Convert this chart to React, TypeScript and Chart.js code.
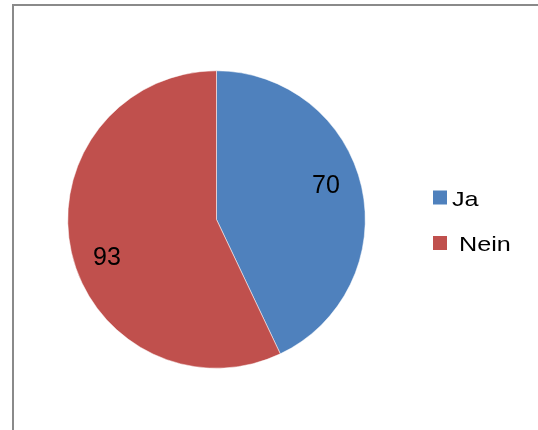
import React, { useEffect, useRef } from "react";
import { Chart, registerables } from "chart.js";

Chart.register(...registerables);

const categories = ["Ja", " Nein"];
const values = [70, 93];
const colors = ["#4F81BD", "#C0504D"];

const framePlugin = {
  id: "frame",
  beforeDraw(chart: any) {
    const ctx = chart.ctx;
    ctx.save();
    ctx.fillStyle = "#ffffff";
    ctx.fillRect(0, 0, chart.width, chart.height);
    ctx.strokeStyle = "#8a8a8a";
    ctx.lineWidth = 2;
    ctx.beginPath();
    ctx.moveTo(13, chart.height + 5);
    ctx.lineTo(13, 5);
    ctx.lineTo(chart.width + 5, 5);
    ctx.stroke();
    ctx.restore();
  },
};

const labelPlugin = {
  id: "labels",
  afterDraw(chart: any) {
    const ctx = chart.ctx;
    const meta = chart.getDatasetMeta(0);
    const ds = chart.data.datasets[0];
    ctx.save();
    ctx.fillStyle = "#000";
    ctx.font = "25px 'Liberation Sans', Arial, sans-serif";
    ctx.textAlign = "center";
    ctx.textBaseline = "alphabetic";
    meta.data.forEach((arc: any, i: number) => {
      const p = arc.getProps(["x", "y", "startAngle", "endAngle", "outerRadius"], true);
      const mid = (p.startAngle + p.endAngle) / 2 - (5.5 * Math.PI) / 180;
      const r = p.outerRadius * 0.775;
      ctx.fillText(String(ds.data[i]), p.x + Math.cos(mid) * r, p.y + Math.sin(mid) * r + 9.5);
    });
    // legend
    const lx = 433;
    const top0 = 190.5;
    const gap = 45.5;
    ctx.font = "21px 'Liberation Sans', Arial, sans-serif";
    ctx.textAlign = "left";
    chart.data.labels.forEach((lab: string, i: number) => {
      const t = top0 + i * gap;
      ctx.fillStyle = ds.backgroundColor[i];
      ctx.fillRect(lx, t, 14, 14);
      ctx.fillStyle = "#000";
      ctx.save();
      ctx.translate(lx + 19, t + 15);
      ctx.scale(1.2, 1);
      ctx.fillText(lab, 0, 0);
      ctx.restore();
    });
    ctx.restore();
  },
};

export default function App() {
  const ref = useRef<HTMLCanvasElement | null>(null);
  useEffect(() => {
    document.body.style.margin = "0";
    const chart = new Chart(ref.current as HTMLCanvasElement, {
      type: "pie",
      data: {
        labels: categories,
        datasets: [
          {
            data: values,
            backgroundColor: colors,
            borderColor: "#ffffff",
            borderWidth: 0.5,
          },
        ],
      },
      options: {
        animation: false,
        responsive: false,
        maintainAspectRatio: false,
        layout: { padding: { left: 67.5, right: 172.5, top: 70.5, bottom: 61.5 } },
        plugins: {
          legend: { display: false },
          tooltip: { enabled: false },
          title: { display: false },
        },
      },
      plugins: [framePlugin, labelPlugin],
    });
    return () => chart.destroy();
  }, []);
  return (
    <div style={{ width: 538, height: 430, position: "relative" }}>
      <canvas ref={ref} width={538} height={430} style={{ width: 538, height: 430, display: "block" }} />
    </div>
  );
}
